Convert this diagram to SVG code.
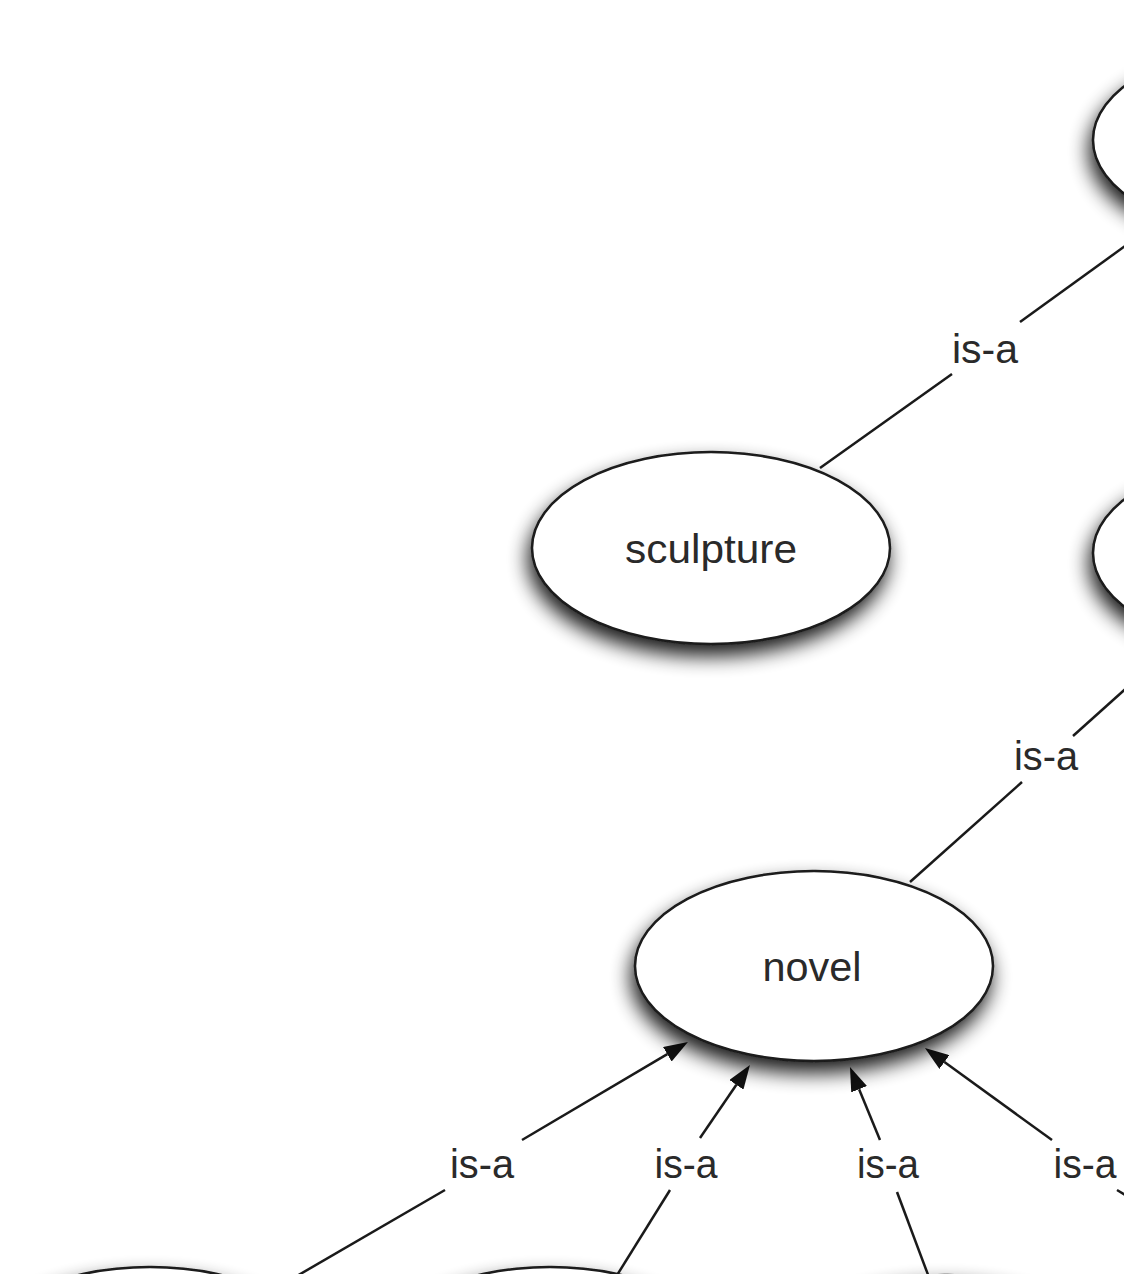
<svg xmlns="http://www.w3.org/2000/svg" width="1124" height="1274" viewBox="0 0 1124 1274">
<style>
.node{fill:#fff;stroke:#1a1a1a;stroke-width:2.5;filter:url(#sh)}
.edge{stroke:#1a1a1a;stroke-width:2.5;fill:none}
.lbl{font-family:"Liberation Sans",Arial,sans-serif;font-size:40px;fill:#2a2a2a;text-anchor:middle}
</style>
<defs>
<filter id="sh" x="-25%" y="-35%" width="150%" height="180%">
<feGaussianBlur in="SourceAlpha" stdDeviation="10"/>
<feOffset dx="-3" dy="11"/>
<feComponentTransfer><feFuncA type="linear" slope="0.9"/></feComponentTransfer>
<feMerge><feMergeNode/><feMergeNode in="SourceGraphic"/></feMerge>
</filter>
<marker id="arr" viewBox="0 0 24 17" refX="0" refY="8.5" markerWidth="24" markerHeight="17" markerUnits="userSpaceOnUse" orient="auto">
<path d="M0,0 L24,8.5 L0,17 Z" fill="#111"/>
</marker>
</defs>
<rect width="1124" height="1274" fill="#fff"/>
<g id="edges">
<line class="edge" x1="820" y1="468" x2="952" y2="374"/>
<line class="edge" x1="1020" y1="322" x2="1150" y2="228"/>
<text class="lbl" x="985" y="363" textLength="66" lengthAdjust="spacingAndGlyphs">is-a</text>
<line class="edge" x1="910" y1="882" x2="1022" y2="782"/>
<line class="edge" x1="1073" y1="736" x2="1150" y2="667"/>
<text class="lbl" x="1046" y="770" textLength="64" lengthAdjust="spacingAndGlyphs">is-a</text>
<line class="edge" x1="290" y1="1280" x2="445" y2="1190"/>
<line class="edge" x1="522" y1="1140" x2="667.3" y2="1054.2" marker-end="url(#arr)"/>
<text class="lbl" x="482" y="1178" textLength="64" lengthAdjust="spacingAndGlyphs">is-a</text>
<line class="edge" x1="614" y1="1280" x2="670" y2="1190"/>
<line class="edge" x1="700" y1="1138" x2="736.4" y2="1084.8" marker-end="url(#arr)"/>
<text class="lbl" x="686" y="1178" textLength="63" lengthAdjust="spacingAndGlyphs">is-a</text>
<line class="edge" x1="930" y1="1280" x2="897" y2="1192"/>
<line class="edge" x1="880" y1="1140" x2="859.1" y2="1089.2" marker-end="url(#arr)"/>
<text class="lbl" x="888" y="1178" textLength="62" lengthAdjust="spacingAndGlyphs">is-a</text>
<line class="edge" x1="1160" y1="1216" x2="1117" y2="1190"/>
<line class="edge" x1="1052" y1="1140" x2="944.4" y2="1062.1" marker-end="url(#arr)"/>
<text class="lbl" x="1085" y="1178" textLength="63" lengthAdjust="spacingAndGlyphs">is-a</text>
</g>
<g id="node-top-right"><ellipse class="node" cx="1271" cy="140" rx="178" ry="95"/></g>
<g id="node-mid-right"><ellipse class="node" cx="1272" cy="553" rx="179" ry="95"/></g>
<g id="node-sculpture"><ellipse class="node" cx="711" cy="548" rx="179" ry="96"/>
<text class="lbl" x="711" y="563" textLength="172" lengthAdjust="spacingAndGlyphs">sculpture</text></g>
<g id="node-novel"><ellipse class="node" cx="814" cy="966" rx="179" ry="95"/>
<text class="lbl" x="812" y="981" textLength="99" lengthAdjust="spacingAndGlyphs">novel</text></g>
<g id="node-bottom-1"><ellipse class="node" cx="150" cy="1362" rx="179" ry="95"/></g>
<g id="node-bottom-2"><ellipse class="node" cx="550" cy="1362" rx="179" ry="95"/></g>
<g id="node-bottom-3"><ellipse class="node" cx="946" cy="1370" rx="179" ry="95"/></g>
</svg>
